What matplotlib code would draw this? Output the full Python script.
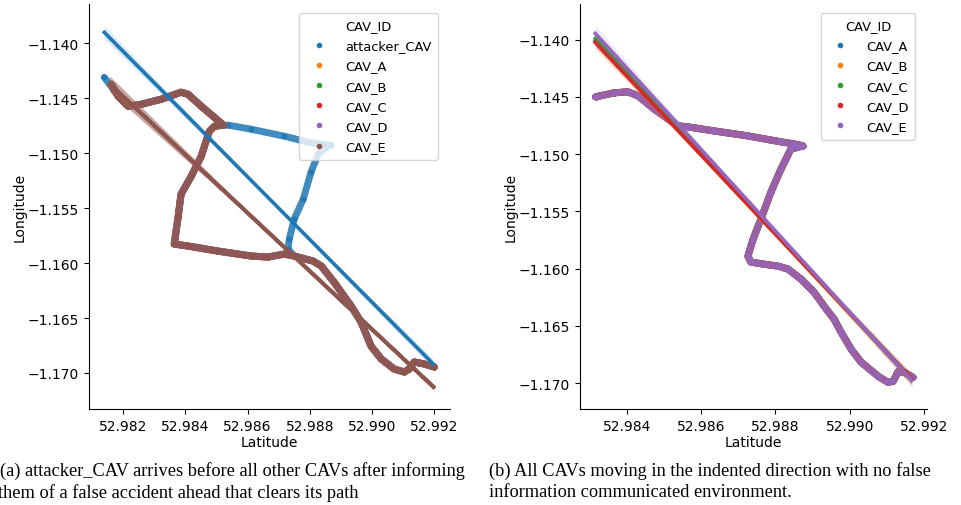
import matplotlib.pyplot as plt
from matplotlib.lines import Line2D
from matplotlib.ticker import FuncFormatter

# ---- data ---------------------------------------------------------------
# (a) route driven by CAV_A..CAV_E (identical GPS tracks)
route_a_lat = [52.98161, 52.98184, 52.98216, 52.98258, 52.98322, 52.98386, 52.98409,
               52.98451, 52.98493, 52.98522, 52.98493, 52.98477, 52.98451, 52.98419,
               52.98386, 52.98377, 52.98364, 52.98409, 52.98505, 52.98612, 52.98666,
               52.98718, 52.98750, 52.98811, 52.98837, 52.98878, 52.98933, 52.98965,
               52.98997, 52.99030, 52.99071, 52.99104, 52.99120, 52.99136, 52.99168,
               52.99200]
route_a_lon = [-1.14373, -1.14482, -1.14573, -1.14555, -1.14509, -1.14445, -1.14464,
               -1.14573, -1.14673, -1.14745, -1.14755, -1.14800, -1.15027, -1.15209,
               -1.15373, -1.15573, -1.15827, -1.15845, -1.15891, -1.15936, -1.15945,
               -1.15918, -1.15936, -1.15982, -1.16027, -1.16173, -1.16391, -1.16536,
               -1.16755, -1.16873, -1.16964, -1.16991, -1.16964, -1.16900, -1.16918,
               -1.16945]

# (a) attacker_CAV track
attacker_lat = [52.98139, 52.98161, 52.98184, 52.98216, 52.98258, 52.98322, 52.98386,
                52.98409, 52.98451, 52.98493, 52.98522, 52.98538, 52.98612, 52.98718,
                52.98795, 52.98837, 52.98869, 52.98853, 52.98827, 52.98804, 52.98779,
                52.98750, 52.98734, 52.98730, 52.98750, 52.98811, 52.98837, 52.98878,
                52.98933, 52.98965, 52.98997, 52.99030, 52.99071, 52.99104, 52.99120,
                52.99136, 52.99168, 52.99200]
attacker_lon = [-1.14309, -1.14391, -1.14482, -1.14573, -1.14555, -1.14509, -1.14445,
                -1.14464, -1.14573, -1.14673, -1.14745, -1.14745, -1.14782, -1.14845,
                -1.14900, -1.14918, -1.14927, -1.14945, -1.15009, -1.15173, -1.15418,
                -1.15600, -1.15782, -1.15873, -1.15936, -1.15982, -1.16027, -1.16173,
                -1.16391, -1.16536, -1.16755, -1.16873, -1.16964, -1.16991, -1.16964,
                -1.16900, -1.16918, -1.16945]

# (b) route driven by CAV_A..CAV_E, no false information
route_b_lat = [52.98316, 52.98365, 52.98403, 52.98430, 52.98473, 52.98537, 52.98564,
               52.98634, 52.98726, 52.98815, 52.98850, 52.98874, 52.98860, 52.98842,
               52.98815, 52.98788, 52.98761, 52.98740, 52.98726, 52.98734, 52.98769,
               52.98807, 52.98834, 52.98869, 52.98904, 52.98931, 52.98958, 52.98977,
               52.99004, 52.99031, 52.99077, 52.99103, 52.99117, 52.99130, 52.99147,
               52.99170]
route_b_lon = [-1.14499, -1.14464, -1.14455, -1.14490, -1.14604, -1.14752, -1.14761,
               -1.14796, -1.14840, -1.14892, -1.14910, -1.14927, -1.14940, -1.14954,
               -1.15129, -1.15330, -1.15566, -1.15741, -1.15890, -1.15942, -1.15960,
               -1.15977, -1.16003, -1.16091, -1.16205, -1.16327, -1.16441, -1.16555,
               -1.16703, -1.16817, -1.16940, -1.16992, -1.16983, -1.16900, -1.16905,
               -1.16948]

# fitted regression lines: (lat start, lat end), (lon start, lon end), CI half widths (start, mid, end)
ids_a = ['attacker_CAV', 'CAV_A', 'CAV_B', 'CAV_C', 'CAV_D', 'CAV_E']
fit_lat_a = {'attacker_CAV': (52.98139, 52.99196), 'CAV_A': (52.98157, 52.99198),
             'CAV_B': (52.98157, 52.99198), 'CAV_C': (52.98157, 52.99198),
             'CAV_D': (52.98157, 52.99198), 'CAV_E': (52.98157, 52.99198)}
fit_lon_a = {'attacker_CAV': (-1.13900, -1.16915), 'CAV_A': (-1.14370, -1.17127),
             'CAV_B': (-1.14370, -1.17127), 'CAV_C': (-1.14370, -1.17127),
             'CAV_D': (-1.14370, -1.17127), 'CAV_E': (-1.14370, -1.17127)}
ci_a = {'attacker_CAV': (0.00060, 0.00012, 0.00045), 'CAV_A': (0.00070, 0.00008, 0.00025),
        'CAV_B': (0.00070, 0.00008, 0.00025), 'CAV_C': (0.00070, 0.00008, 0.00025),
        'CAV_D': (0.00070, 0.00008, 0.00025), 'CAV_E': (0.00070, 0.00008, 0.00025)}

ids_b = ['CAV_A', 'CAV_B', 'CAV_C', 'CAV_D', 'CAV_E']
fit_lat_b = {'CAV_A': (52.98315, 52.99167), 'CAV_B': (52.98315, 52.99167),
             'CAV_C': (52.98315, 52.99167), 'CAV_D': (52.98315, 52.99167),
             'CAV_E': (52.98315, 52.99167)}
fit_lon_b = {'CAV_A': (-1.14010, -1.16970), 'CAV_B': (-1.14020, -1.16972),
             'CAV_C': (-1.13990, -1.16968), 'CAV_D': (-1.14023, -1.16962),
             'CAV_E': (-1.13945, -1.16975)}
ci_b = {'CAV_A': (0.00050, 0.00008, 0.00045), 'CAV_B': (0.00065, 0.00008, 0.00060),
        'CAV_C': (0.00050, 0.00008, 0.00045), 'CAV_D': (0.00045, 0.00008, 0.00045),
        'CAV_E': (0.00070, 0.00008, 0.00050)}

xticks_a = [52.982, 52.984, 52.986, 52.988, 52.990, 52.992]
xticks_b = [52.984, 52.986, 52.988, 52.990, 52.992]
yticks_a = [-1.140, -1.145, -1.150, -1.155, -1.160, -1.165, -1.170]
yticks_b = [-1.140, -1.145, -1.150, -1.155, -1.160, -1.165, -1.170]

palette = ['#1f77b4', '#ff7f0e', '#2ca02c', '#d62728', '#9467bd', '#8c564b']


def fmt(v, pos):
    return f'{v:.3f}'.replace('-', '\u2212')


def draw_track(ax, lat, lon, color):
    ax.plot(lat, lon, color=color, lw=5, alpha=0.85, solid_capstyle='round',
            solid_joinstyle='round', zorder=2)
    ax.scatter(lat, lon, s=18, color=color, alpha=0.9, linewidths=0, zorder=2)


def draw_fit(ax, lat, lon, ci, color):
    mid_lat = (lat[0] + lat[1]) / 2
    mid_lon = (lon[0] + lon[1]) / 2
    xs = [lat[0], mid_lat, lat[1]]
    ys = [lon[0], mid_lon, lon[1]]
    ax.fill_between(xs, [y - c for y, c in zip(ys, ci)], [y + c for y, c in zip(ys, ci)],
                    color=color, alpha=0.15, linewidth=0, zorder=3)
    ax.plot(lat, lon, color=color, lw=2.6, zorder=3)


def style(ax, xticks, yticks, xlim, ylim):
    ax.set_xlim(*xlim)
    ax.set_ylim(*ylim)
    ax.set_xticks(xticks)
    ax.set_yticks(yticks)
    ax.xaxis.set_major_formatter(FuncFormatter(fmt))
    ax.yaxis.set_major_formatter(FuncFormatter(fmt))
    ax.tick_params(labelsize=10)
    ax.spines['top'].set_visible(False)
    ax.spines['right'].set_visible(False)
    ax.set_xlabel('Latitude', fontsize=10, labelpad=2)
    ax.set_ylabel('Longitude', fontsize=10, labelpad=1)


fig = plt.figure(figsize=(9.62, 5.06), dpi=100)
ax1 = fig.add_axes([89 / 962, 1 - 410 / 506, 361 / 962, 405 / 506])
ax2 = fig.add_axes([580 / 962, 1 - 410 / 506, 347 / 962, 405 / 506])

leg_kw = dict(title='CAV_ID', loc='upper right', fontsize=9.4, title_fontsize=9.4,
              bbox_to_anchor=(0.985, 0.995), handletextpad=1.0, labelspacing=0.55,
              borderpad=0.5)

# panel (a)
tracks_a = {'attacker_CAV': (attacker_lat, attacker_lon)}
for cid in ids_a[1:]:
    tracks_a[cid] = (route_a_lat, route_a_lon)
for i, cid in enumerate(ids_a):
    draw_track(ax1, *tracks_a[cid], palette[i])
for i, cid in enumerate(ids_a):
    draw_fit(ax1, fit_lat_a[cid], fit_lon_a[cid], ci_a[cid], palette[i])
style(ax1, xticks_a, yticks_a, (52.98090, 52.99251), (-1.17328, -1.13642))
handles = [Line2D([], [], marker='o', ls='', ms=3, color=palette[i]) for i in range(len(ids_a))]
ax1.legend(handles, ids_a, **leg_kw)

# panel (b)
for i, cid in enumerate(ids_b):
    draw_track(ax2, route_b_lat, route_b_lon, palette[i])
for i, cid in enumerate(ids_b):
    draw_fit(ax2, fit_lat_b[cid], fit_lon_b[cid], ci_b[cid], palette[i])
style(ax2, xticks_b, yticks_b, (52.98274, 52.99208), (-1.17225, -1.13688))
handles = [Line2D([], [], marker='o', ls='', ms=3, color=palette[i]) for i in range(len(ids_b))]
ax2.legend(handles, ids_b, **leg_kw)

# captions
cap = dict(family='Liberation Serif', fontsize=13.2, va='center', ha='left')
fig.text(0.0, 1 - 471 / 506, '(a) attacker_CAV arrives before all other CAVs after informing', **cap)
fig.text(-0.002, 1 - 493 / 506, 'them of a false accident ahead that clears its path', **cap)
fig.text(489 / 962, 1 - 471 / 506, '(b) All CAVs moving in the indented direction with no false', **cap)
fig.text(489 / 962, 1 - 493 / 506, 'information communicated environment.', **cap)

fig.savefig('out.png', dpi=100)
